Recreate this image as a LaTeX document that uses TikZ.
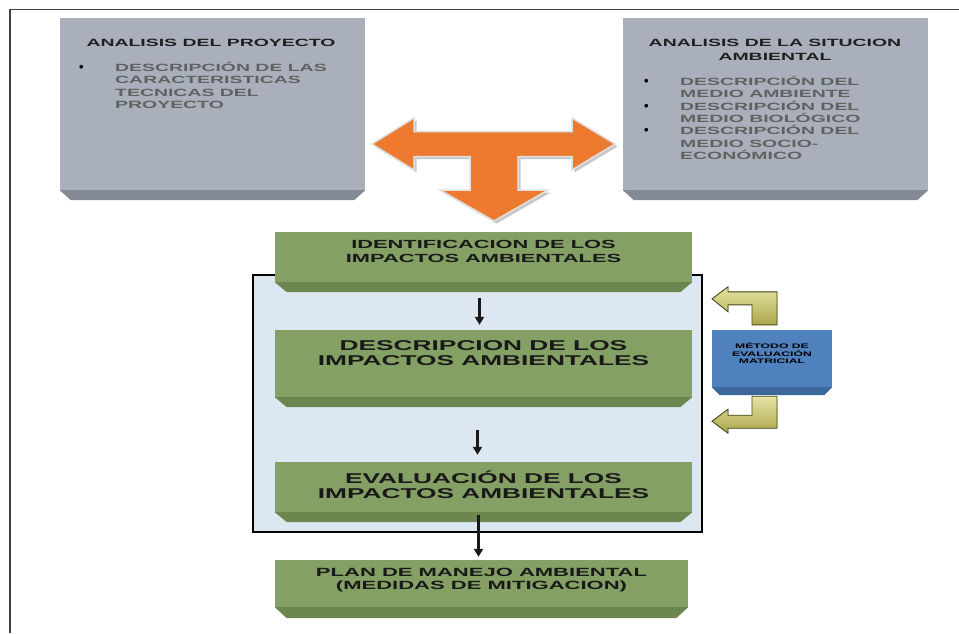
\documentclass[tikz,border=0pt]{standalone}
\usepackage{fontspec}
\usepackage{tikz}
\usetikzlibrary{calc,arrows.meta,positioning}
\newfontfamily\widesans[FakeStretch=1.85]{Liberation Sans}
\newfontfamily\plainsans{Liberation Sans}
\definecolor{grayface}{HTML}{A9B0BC}
\definecolor{graybevel}{HTML}{838A95}
\definecolor{greenface}{HTML}{84A064}
\definecolor{greenbevel}{HTML}{6B864E}
\definecolor{blueface}{HTML}{4F81BD}
\definecolor{bluebevel}{HTML}{3A6699}
\definecolor{framefill}{HTML}{DDE7F1}
\definecolor{torange}{HTML}{EE7A30}
\definecolor{elbowlight}{HTML}{E6E4A6}
\definecolor{elbowdark}{HTML}{ABA64A}
\definecolor{elbowline}{HTML}{4D4B1C}
\newcommand{\dotmark}{{\plainsans\fontsize{13}{12}\selectfont\color{black}\textbullet}}
\newcommand{\bevel}[4]{\fill[#2] (#1.south west) -- (#1.south east) -- ($(#1.south east)+(-#3,#4)$) -- ($(#1.south west)+(#3,#4)$) -- cycle;}

\begin{document}
\begin{tikzpicture}[
  x=1pt, y=-1pt,
  graybox/.style={rectangle, fill=grayface, minimum width=305pt, minimum height=172pt, inner sep=0pt},
  greenbox/.style={rectangle, fill=greenface, minimum width=417pt, inner sep=0pt},
  bluebox/.style={rectangle, fill=blueface, minimum width=120pt, minimum height=57pt, inner sep=0pt},
  headtxt/.style={font={\widesans\bfseries\fontsize{10.5}{14}\selectfont}, text=black!88, align=center, inner sep=0pt},
  listtxt/.style={font={\widesans\bfseries\fontsize{10.5}{12.3}\selectfont}, text=black!62, align=left, inner sep=0pt, anchor=north west},
  steptxt/.style={font={\widesans\bfseries}, text=black!90, align=center, inner sep=0pt},
  flow/.style={draw=black!90, line width=2.4pt, -{Triangle[length=8pt,width=9pt]}},
  tarrow/.style={fill=torange, draw=black!12, line width=1.5pt, preaction={fill=black!22, transform canvas={shift={(2.5pt,-2.5pt)}}}},
  elbow/.style={top color=elbowlight, bottom color=elbowdark, draw=elbowline, line width=0.9pt}
]
\useasboundingbox (0,0) rectangle (959,633);
\fill[white] (0,0) rectangle (959,633);
\draw[line width=1.8pt, black!75] (10,633) -- (10,9.5) -- (959,9.5);

% analysis boxes
\node[graybox] (proy) at (212.5,104) {};
\bevel{proy}{graybevel}{11}{10}
\node[headtxt] (proy-t) at (211,43) {ANALISIS DEL PROYECTO};
\node[listtxt] (proy-l) at (79,62) {\makebox[36pt][l]{\dotmark}DESCRIPCIÓN DE LAS\\
  \hspace*{36pt}CARACTERISTICAS\\ \hspace*{36pt}TECNICAS DEL\\ \hspace*{36pt}PROYECTO};

\node[graybox] (amb) at (775.5,104) {};
\bevel{amb}{graybevel}{11}{10}
\node[headtxt] (amb-t) at (775,50) {ANALISIS DE LA SITUCION\\AMBIENTAL};
\node[listtxt] (amb-l) at (644,76) {\makebox[36pt][l]{\dotmark}DESCRIPCIÓN DEL\\
  \hspace*{36pt}MEDIO AMBIENTE\\ \makebox[36pt][l]{\dotmark}DESCRIPCIÓN DEL\\
  \hspace*{36pt}MEDIO BIOLÓGICO\\ \makebox[36pt][l]{\dotmark}DESCRIPCIÓN DEL\\
  \hspace*{36pt}MEDIO SOCIO-\\ \hspace*{36pt}ECONÓMICO};

% orange T arrow
\coordinate (hub) at (494,144);
\filldraw[tarrow, shift={(hub)}] (-122,0) -- (-80,-26) -- (-80,-12.5) -- (78,-12.5) -- (78,-26) -- (121,0)
  -- (78,26) -- (78,12.5) -- (24,12.5) -- (24,46) -- (54,46) -- (0,77) -- (-54,46) -- (-24,46)
  -- (-24,12.5) -- (-80,12.5) -- (-80,26) -- cycle;

% evaluation block
\draw[line width=2.6pt, fill=framefill] (253,275) rectangle (702,532);

\node[greenbox, minimum height=50pt] (idf) at (483.5,257) {};
\bevel{idf}{greenbevel}{12}{10}
\node[steptxt, font={\widesans\bfseries\fontsize{11.8}{14}\selectfont}] (idf-t) at ([yshift=5.5pt]idf) {IDENTIFICACION DE LOS\\IMPACTOS AMBIENTALES};

\node[greenbox, minimum height=67pt] (desc) at (483.5,363.5) {};
\bevel{desc}{greenbevel}{12}{10}
\node[steptxt, font={\widesans\bfseries\fontsize{14.2}{15}\selectfont}] (desc-t) at ([yshift=10pt]desc) {DESCRIPCION DE LOS\\IMPACTOS AMBIENTALES};

\node[greenbox, minimum height=50pt] (eval) at (483.5,487) {};
\bevel{eval}{greenbevel}{12}{10}
\node[steptxt, font={\widesans\bfseries\fontsize{14.2}{15.5}\selectfont}] (eval-t) at ([yshift=2pt]eval) {EVALUACIÓN DE LOS\\IMPACTOS AMBIENTALES};

\node[greenbox, minimum width=413pt, minimum height=47pt] (plan) at (481.5,583.5) {};
\bevel{plan}{greenbevel}{12}{11}
\node[steptxt, font={\widesans\bfseries\fontsize{11.9}{13}\selectfont}] (plan-t) at ([yshift=3.5pt]plan) {PLAN DE MANEJO AMBIENTAL\\(MEDIDAS DE MITIGACION)};

\draw[flow] ([xshift=-4pt,yshift=-16pt]idf.south) -- ([xshift=-4pt,yshift=5pt]desc.north);
\draw[flow] ([xshift=-6pt,yshift=-33pt]desc.south) -- ([xshift=-6pt,yshift=7pt]eval.north);
\draw[flow] ([xshift=-5pt,yshift=-3pt]eval.south) -- ([xshift=-3pt,yshift=3pt]plan.north);

% matrix method
\node[bluebox] (metodo) at (772,358.5) {};
\bevel{metodo}{bluebevel}{8}{8}
\node[steptxt, text=black, font={\widesans\bfseries\fontsize{6.6}{7.5}\selectfont}] (metodo-t) at ([yshift=5pt]metodo) {MÉTODO DE\\EVALUACIÓN\\MATRICIAL};

\filldraw[elbow, shift={(metodo.north)}] (5,-5) -- (5,-38) -- (-44,-38) -- (-44,-43) -- (-60,-31)
  -- (-44,-18) -- (-44,-25) -- (-20,-25) -- (-20,-5) -- cycle;
\filldraw[elbow, shift={(metodo.south)}] (-20,9) -- (5,9) -- (5,41) -- (-44,41) -- (-44,46) -- (-60,34)
  -- (-44,22) -- (-44,28) -- (-20,28) -- cycle;
\end{tikzpicture}
\end{document}
